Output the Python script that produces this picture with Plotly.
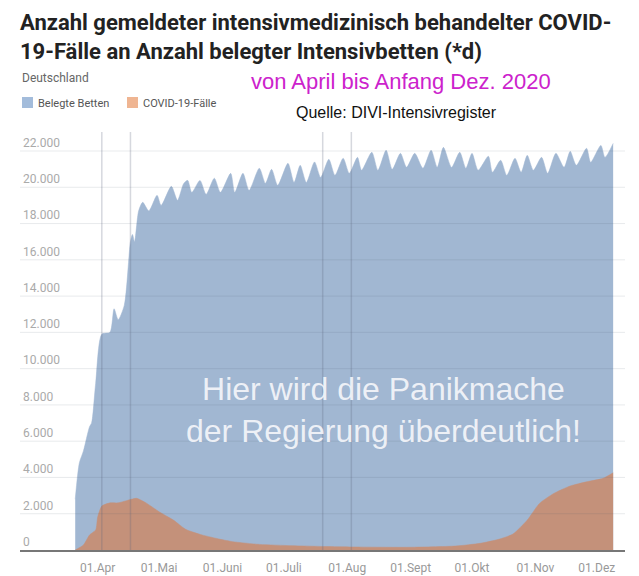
import plotly.graph_objects as go

# Belegte Intensivbetten (Spitzen und Täler der Wochenwelle)
bed_dates = [
    "2020-03-21", "2020-03-23", "2020-03-25", "2020-03-28", "2020-03-29", "2020-03-31",
    "2020-04-03", "2020-04-07", "2020-04-09", "2020-04-11", "2020-04-14", "2020-04-17",
    "2020-04-18", "2020-04-19", "2020-04-21", "2020-04-23", "2020-04-26", "2020-04-30",
    "2020-05-02", "2020-05-07", "2020-05-10", "2020-05-13", "2020-05-15", "2020-05-17",
    "2020-05-21", "2020-05-24", "2020-05-28", "2020-05-31",
    "2020-06-05", "2020-06-07", "2020-06-11", "2020-06-14", "2020-06-19", "2020-06-22",
    "2020-06-25", "2020-06-28",
    "2020-07-03", "2020-07-06", "2020-07-09", "2020-07-12", "2020-07-16", "2020-07-19",
    "2020-07-23", "2020-07-26", "2020-07-30",
    "2020-08-02", "2020-08-06", "2020-08-08", "2020-08-13", "2020-08-16", "2020-08-20",
    "2020-08-23", "2020-08-27", "2020-08-30",
    "2020-09-03", "2020-09-07", "2020-09-11", "2020-09-14", "2020-09-17", "2020-09-21",
    "2020-09-25", "2020-09-28",
    "2020-10-01", "2020-10-04", "2020-10-09", "2020-10-11", "2020-10-15", "2020-10-18",
    "2020-10-22", "2020-10-25", "2020-10-28", "2020-10-31",
    "2020-11-04", "2020-11-07", "2020-11-11", "2020-11-15", "2020-11-18", "2020-11-21",
    "2020-11-26", "2020-11-28",
    "2020-12-03", "2020-12-05", "2020-12-09",
]
bed_values = [
    2800, 4800, 5460, 6800, 7000, 9200,
    11900, 12000, 13300, 12700, 13500, 17000,
    17400, 17000, 18700, 19170, 18700, 19560,
    19000, 20050, 19280, 20200, 20380, 19720,
    20380, 19610, 20500, 19720,
    20770, 19720, 20770, 19830, 21050, 20220,
    20990, 20110,
    21320, 20270, 21210, 20270, 21400, 20550,
    21540, 20660, 21600,
    20770, 21650, 20940, 21930, 20940, 22040,
    20990, 21870, 21100,
    21870, 21050, 22040, 21100, 22200, 21100,
    21930, 21050,
    21870, 20940, 21710, 20830, 21490, 20660,
    21600, 20830, 21760, 20940,
    21650, 20770, 21870, 21100, 21980, 21210,
    22150, 21380,
    22310, 21650, 22420,
]

# COVID-19-Fälle auf Intensivstationen
covid_dates = [
    "2020-03-21", "2020-03-25", "2020-03-28", "2020-03-31", "2020-04-01", "2020-04-03",
    "2020-04-07", "2020-04-11", "2020-04-15", "2020-04-20", "2020-04-25", "2020-05-01",
    "2020-05-08", "2020-05-14", "2020-05-22", "2020-05-31", "2020-06-06", "2020-06-19",
    "2020-07-05", "2020-07-22", "2020-08-02", "2020-08-30", "2020-09-23", "2020-10-05",
    "2020-10-14", "2020-10-21", "2020-10-28", "2020-11-03", "2020-11-10", "2020-11-18",
    "2020-11-26", "2020-12-04", "2020-12-09",
]
covid_values = [
    0, 275, 830, 1100, 1835, 2420,
    2600, 2600, 2720, 2850, 2570, 2110,
    1650, 1140, 830, 590, 460, 310,
    240, 190, 170, 150, 220, 370,
    590, 880, 1650, 2570, 3120, 3530,
    3760, 3950, 4260,
]

# Markierungen (senkrechte Linien)
marker_dates = ["2020-04-03", "2020-04-17", "2020-07-20", "2020-08-03"]

x_tick_vals = ["2020-04-01", "2020-05-01", "2020-06-01", "2020-07-01", "2020-08-01",
               "2020-09-01", "2020-10-01", "2020-11-01", "2020-12-01"]
x_tick_text = ["01.Apr", "01.Mai", "01.Juni", "01.Juli", "01.Aug",
               "01.Sept", "01.Okt", "01.Nov", "01.Dez"]
y_tick_vals = [0, 2000, 4000, 6000, 8000, 10000, 12000, 14000, 16000, 18000, 20000, 22000]
y_tick_text = ["0", "2.000", "4.000", "6.000", "8.000", "10.000", "12.000",
               "14.000", "16.000", "18.000", "20.000", "22.000"]

# page is 639x576; the browser puts the figure 8px in from top/left
OFF = 8
W, H = 639 - OFF, 576 - OFF
PL, PR, PT, PB = 20, 625, 130, 550   # plot area in page pixels


def paper(px, py):
    """Page pixel position -> paper coordinates."""
    return (px - PL) / (PR - PL), (PB - py) / (PB - PT)


BLUE = "#a1b7d2"
ORANGE = "#c4917a"

fig = go.Figure()
fig.add_trace(go.Scatter(
    x=bed_dates, y=bed_values, mode="lines", fill="tozeroy",
    line=dict(color=BLUE, width=0.5, shape="spline", smoothing=0.7),
    fillcolor=BLUE, name="Belegte Betten",
))
fig.add_trace(go.Scatter(
    x=covid_dates, y=covid_values, mode="lines", fill="tozeroy",
    line=dict(color=ORANGE, width=0.5, shape="spline", smoothing=0.6),
    fillcolor=ORANGE, name="COVID-19-Fälle",
))

shapes = []
for v in y_tick_vals[1:]:
    shapes.append(dict(type="line", xref="paper", yref="y", x0=0, x1=1, y0=v, y1=v,
                       line=dict(color="rgba(80,90,110,0.13)", width=1), layer="above"))
for d in marker_dates:
    shapes.append(dict(type="line", xref="x", yref="paper", x0=d, x1=d, y0=0, y1=0.995,
                       line=dict(color="rgba(90,100,125,0.25)", width=1.5), layer="above"))

# Legend squares
for x0, col in [(22, "#a3bcdb"), (127, "#efb592")]:
    a0, b0 = paper(x0, 108)
    a1, b1 = paper(x0 + 11, 97)
    shapes.append(dict(type="rect", xref="paper", yref="paper", x0=a0, x1=a1, y0=b0, y1=b1,
                       fillcolor=col, line=dict(width=0)))

annotations = []


def text(px, py, s, size, color, family, xanchor="left", yanchor="middle", align="left"):
    ax, ay = paper(px, py)
    annotations.append(dict(x=ax, y=ay, xref="paper", yref="paper", text=s, showarrow=False,
                            xanchor=xanchor, yanchor=yanchor, align=align,
                            font=dict(size=size, color=color, family=family)))


text(18, 8.5, "<b>Anzahl gemeldeter intensivmedizinisch behandelter COVID-<br>"
     "19-Fälle an Anzahl belegter Intensivbetten (*d)</b>",
     22, "#222222", "Roboto", yanchor="top")
text(20, 78, "Deutschland", 12, "#666666", "Roboto")
text(36, 103, "Belegte Betten", 11, "#555555", "Roboto")
text(141, 103, "COVID-19-Fälle", 11, "#555555", "Roboto")
text(249, 82, "von April bis Anfang Dez. 2020", 22, "#cc22cc", "Liberation Sans")
text(294, 113, "Quelle: DIVI-Intensivregister", 16, "#111111", "Liberation Sans")
text(383, 410, "Hier wird die Panikmache<br>der Regierung überdeutlich!", 32,
     "rgba(245,246,250,0.92)", "Liberation Sans", xanchor="center", align="center")

fig.update_layout(
    width=W, height=H,
    margin=dict(l=PL - OFF, r=639 - PR, t=PT - OFF, b=576 - PB, autoexpand=False),
    paper_bgcolor="white", plot_bgcolor="white",
    showlegend=False,
    shapes=shapes, annotations=annotations,
    font=dict(family="Roboto"),
    xaxis=dict(
        range=["2020-02-23", "2020-12-14 19:00"],
        tickvals=x_tick_vals, ticktext=x_tick_text,
        tickfont=dict(size=12, color="#999999"),
        ticklabelstandoff=6,
        showgrid=False, zeroline=False,
        showline=True, linecolor="#777777", linewidth=1.5,
        ticks="", fixedrange=True, automargin=False,
    ),
    yaxis=dict(
        range=[0, 23158],
        tickvals=y_tick_vals, ticktext=y_tick_text,
        tickfont=dict(size=12, color="#aaaaaa"),
        ticklabelposition="inside top",
        showgrid=False, zeroline=False, ticks="", fixedrange=True, automargin=False,
    ),
)

fig.write_html("out.html")
